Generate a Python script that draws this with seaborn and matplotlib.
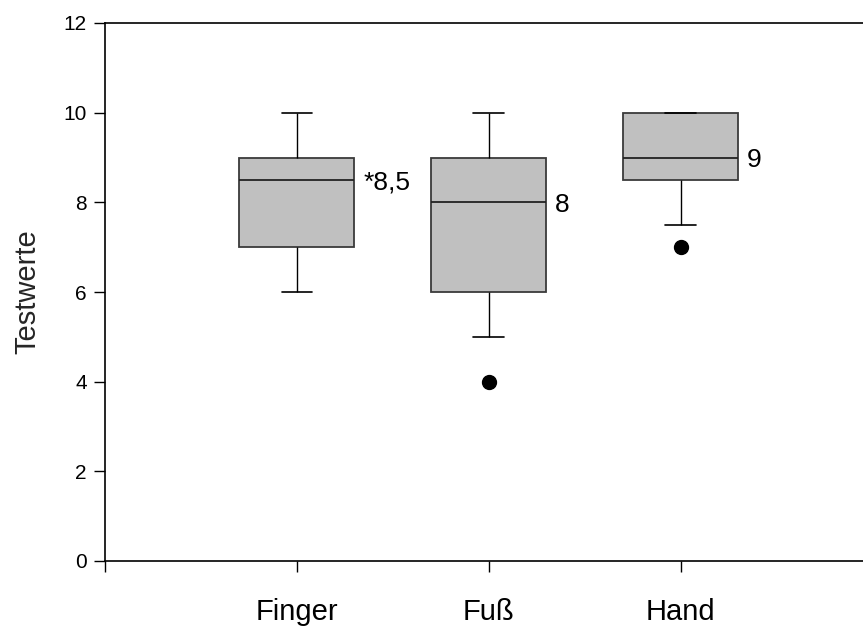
import numpy as np
import pandas as pd
import matplotlib
matplotlib.use("Agg")
import matplotlib.pyplot as plt
import seaborn as sns

# ---- data ----
categories = ["Finger", "Fuß", "Hand"]
finger_values = [6, 6, 7, 7, 8, 8.5, 9, 9, 9, 10, 10]
fuss_values = [4, 5, 6, 6, 7, 8, 8, 9, 9, 10, 10]
hand_values = [7, 7.5, 8.5, 8.5, 9, 9, 9.5, 10, 10, 10, 10]
median_labels = ["*8,5", "8", "9"]
y_ticks = [0, 2, 4, 6, 8, 10, 12]
y_label = "Testwerte"

series = [finger_values, fuss_values, hand_values]
df = pd.DataFrame({
    "Gruppe": np.repeat(categories, [len(s) for s in series]),
    "Wert": np.concatenate(series),
})

sns.set_theme(style="white")
plt.rcParams["font.family"] = ["Liberation Sans", "DejaVu Sans"]

fig = plt.figure(figsize=(8.63, 6.28), dpi=100)
ax = fig.add_axes([105 / 863, 67 / 628, 1 - 105 / 863, 538 / 628])

sns.boxplot(
    data=df, x="Gruppe", y="Wert", order=categories, ax=ax,
    whis=(10, 90), width=0.60, color="#C0C0C0", linecolor="#3a3a3a",
    linewidth=1.3, saturation=1,
    whiskerprops=dict(color="black", linewidth=1.0),
    capprops=dict(color="black", linewidth=1.2),
    medianprops=dict(color="#222222", linewidth=1.3),
    flierprops=dict(marker="o", markerfacecolor="black",
                    markeredgecolor="black", markersize=10),
    capwidths=0.16,
)

# median annotations
for i, (vals, lab) in enumerate(zip(series, median_labels)):
    ax.annotate(lab, (i + 0.345, np.median(vals)), xytext=(0, -2),
                textcoords="offset points", fontsize=19,
                ha="left", va="center", color="black")

ax.set_xlim(-1, 2.95)
ax.set_ylim(0, 12)
ax.set_yticks(y_ticks)
ax.set_yticklabels([str(t) for t in y_ticks], fontsize=15)
ax.set_xticks([-1, 0, 1, 2])
ax.set_xticklabels([""] + categories, fontsize=21)
ax.set_xlabel("")
ax.set_ylabel(y_label, fontsize=21, labelpad=16)

for side in ["left", "bottom", "top"]:
    ax.spines[side].set_visible(True)
    ax.spines[side].set_color("black")
    ax.spines[side].set_linewidth(1.2)
ax.spines["right"].set_visible(False)

ax.tick_params(axis="y", direction="out", length=8, width=1, pad=5,
               color="black", left=True, labelcolor="black")
ax.tick_params(axis="x", direction="out", length=8, width=1, pad=19,
               color="black", bottom=True, labelcolor="black")
ax.grid(False)

fig.savefig("out.png", dpi=100)
